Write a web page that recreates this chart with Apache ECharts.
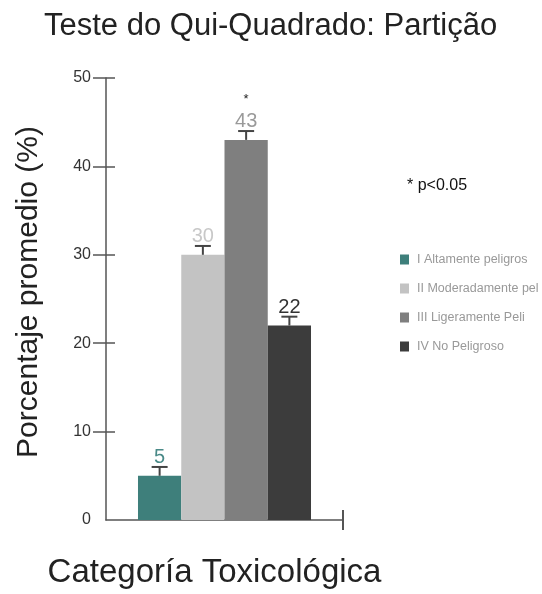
<!DOCTYPE html>
<html>
<head>
<meta charset="utf-8">
<script src="https://cdn.jsdelivr.net/npm/echarts@6/dist/echarts.min.js"></script>
<style>
html,body{margin:0;padding:0;background:#fff;}
#chart{width:542px;height:594px;}
</style>
</head>
<body>
<div id="chart"></div>
<script>
var titleText = 'Teste do Qui-Quadrado: Partição';
var xName = 'Categoría Toxicológica';
var yName = 'Porcentaje promedio (%)';
var seriesNames = ['I Altamente peligros', 'II Moderadamente pel', 'III Ligeramente Peli', 'IV No Peligroso'];
var values = [5, 30, 43, 22];
var errors = [1, 1, 1, 1];
var stars = ['', '', '*', ''];
var colors = ['#3e7f7b', '#c3c3c3', '#7f7f7f', '#3c3c3c'];
var labelColors = ['#4a8a88', '#c8c8c8', '#9a9a9a', '#333333'];
var yTicks = [10, 20, 30, 40, 50];
var note = '* p<0.05';

var FONT = 'Liberation Sans, Arial, sans-serif';
var GAP = 0.27;

var chart = echarts.init(document.getElementById('chart'));

var series = seriesNames.map(function (name, i) {
  return {
    name: name,
    type: 'bar',
    xAxisIndex: 0,
    yAxisIndex: 0,
    barGap: '0%',
    barCategoryGap: (GAP * 100) + '%',
    itemStyle: { color: colors[i] },
    data: [values[i]],
    label: {
      show: true,
      position: 'top',
      distance: 8,
      formatter: function (p) {
        return stars[i] ? '{s|' + stars[i] + '}\n{v|' + p.value + '}' : '{v|' + p.value + '}';
      },
      rich: {
        v: { fontFamily: FONT, fontSize: 20, color: labelColors[i], lineHeight: 20 },
        s: { fontFamily: FONT, fontSize: 13, color: '#222', lineHeight: 24 }
      }
    },
    z: 2
  };
});

var errData = values.map(function (v, i) { return [0, v, errors[i], i]; });
series.push({
  type: 'custom',
  xAxisIndex: 0,
  yAxisIndex: 0,
  silent: true,
  z: 3,
  data: errData,
  renderItem: function (params, api) {
    var v = api.value(1), e = api.value(2), i = api.value(3);
    var n = seriesNames.length;
    var c = api.coord([0, v]);
    var band = api.size([1, 0])[0];
    var total = band * (1 - GAP);
    var bw = total / n;
    var x = c[0] - total / 2 + (i + 0.5) * bw;
    var yTop = api.coord([0, v + e])[1];
    var yBar = c[1];
    var cap = 8;
    var st = { stroke: '#444', lineWidth: 2 };
    return {
      type: 'group',
      children: [
        { type: 'line', shape: { x1: x, y1: yBar, x2: x, y2: yTop }, style: st },
        { type: 'line', shape: { x1: x - cap, y1: yTop, x2: x + cap, y2: yTop }, style: st }
      ]
    };
  }
});

var option = {
  backgroundColor: '#ffffff',
  animation: false,
  title: {
    text: titleText,
    left: 39,
    top: 6,
    textStyle: { fontFamily: FONT, fontSize: 31, fontWeight: 'normal', color: '#222' }
  },
  legend: {
    orient: 'vertical',
    left: 395,
    top: 248,
    icon: 'rect',
    itemWidth: 9,
    itemHeight: 10,
    itemGap: 16,
    data: seriesNames,
    textStyle: { fontFamily: FONT, fontSize: 12.5, color: '#999', padding: [0, 0, 0, 3] }
  },
  graphic: [{
    type: 'text',
    left: 407,
    top: 178,
    style: { text: note, fontFamily: FONT, fontSize: 16, fill: '#111' }
  }],
  grid: { left: 106, right: 199, top: 78, bottom: 71 },
  xAxis: [{
    type: 'category',
    data: [''],
    name: xName,
    nameLocation: 'middle',
    nameGap: 36,
    nameTextStyle: { fontFamily: FONT, fontSize: 33, color: '#222', padding: [0, 20, 0, 0] },
    axisLine: { lineStyle: { color: '#555', width: 1.5 } },
    axisTick: { show: false },
    axisLabel: { show: false }
  }, {
    type: 'value', min: 0, max: 1, interval: 1,
    position: 'bottom',
    axisLine: { show: false },
    axisTick: { show: true, customValues: [1], length: 10, lineStyle: { color: '#555', width: 2 } },
    axisLabel: { show: false },
    splitLine: { show: false }
  }, {
    type: 'value', min: 0, max: 1, interval: 1,
    position: 'bottom',
    axisLine: { show: false },
    axisTick: { show: true, inside: true, customValues: [1], length: 10, lineStyle: { color: '#555', width: 2 } },
    axisLabel: { show: false },
    splitLine: { show: false }
  }],
  yAxis: [{
    type: 'value',
    min: 0, max: 50, interval: 10,
    name: yName,
    nameLocation: 'middle',
    nameRotate: 90,
    nameGap: 62,
    nameTextStyle: { fontFamily: FONT, fontSize: 30, color: '#222', padding: [0, 0, 0, 14] },
    axisLine: { show: true, lineStyle: { color: '#555', width: 1.5 } },
    axisTick: { show: true, customValues: yTicks, length: 13, lineStyle: { color: '#555', width: 1.5 } },
    axisLabel: { margin: 15, fontFamily: FONT, fontSize: 16, color: '#333' },
    splitLine: { show: false }
  }, {
    type: 'value',
    min: 0, max: 50, interval: 10,
    position: 'left',
    axisLine: { show: false },
    axisTick: { show: true, inside: true, customValues: yTicks, length: 9, lineStyle: { color: '#555', width: 1.5 } },
    axisLabel: { show: false },
    splitLine: { show: false }
  }],
  series: series
};
chart.setOption(option);
</script>
</body>
</html>
